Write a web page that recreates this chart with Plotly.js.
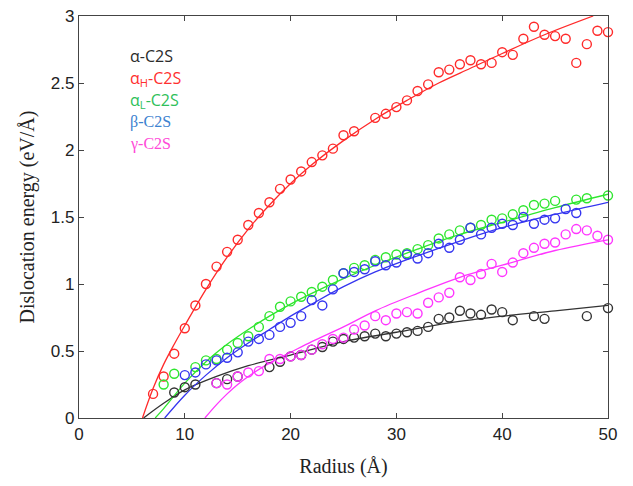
<!DOCTYPE html>
<html>
<head>
<meta charset="utf-8">
<script src="https://cdn.plot.ly/plotly-3.0.1.min.js"></script>
<style>html,body{margin:0;padding:0;background:#fff;}#chart{width:633px;height:486px;}</style>
</head>
<body>
<div id="chart"></div>
<script>
// ---- data points (circles) ----
const alphaX = [9,10,11,13,14,15,18,19,20,21,22,23,24,25,26,27,28,29,30,31,32,33,34,35,36,37,38,39,40,41,43,44,48,50];
const alphaY = [0.19,0.23,0.25,0.26,0.29,0.31,0.38,0.42,0.46,0.47,0.51,0.53,0.57,0.59,0.60,0.61,0.63,0.61,0.63,0.64,0.65,0.68,0.74,0.75,0.80,0.78,0.77,0.81,0.79,0.73,0.76,0.74,0.76,0.82];

const alphaHX = [7,8,9,10,11,12,13,14,15,16,17,18,19,20,21,22,23,24,25,26,28,29,30,31,32,33,34,35,36,37,38,39,40,41,42,43,44,45,46,47,48,49,50];
const alphaHY = [0.18,0.31,0.48,0.67,0.84,1.00,1.13,1.24,1.33,1.44,1.53,1.61,1.71,1.78,1.84,1.91,1.96,2.01,2.11,2.14,2.24,2.27,2.32,2.37,2.44,2.49,2.58,2.60,2.64,2.67,2.64,2.65,2.73,2.71,2.83,2.92,2.86,2.85,2.83,2.65,2.79,2.89,2.88];

const alphaLX = [8,9,11,12,13,14,15,16,17,18,19,20,21,22,23,24,25,26,27,28,29,30,31,32,33,34,35,36,37,38,39,40,41,42,43,44,45,47,48,50];
const alphaLY = [0.25,0.33,0.38,0.43,0.44,0.51,0.56,0.61,0.68,0.76,0.83,0.87,0.905,0.94,0.98,1.03,1.08,1.12,1.14,1.18,1.20,1.22,1.23,1.26,1.29,1.34,1.37,1.40,1.42,1.44,1.48,1.49,1.52,1.55,1.59,1.60,1.62,1.63,1.64,1.66];

const betaX = [10,11,12,13,14,15,16,17,18,19,20,21,22,23,24,25,26,27,28,29,30,31,32,33,34,35,36,37,38,39,40,41,42,43,44,45,46,47];
const betaY = [0.32,0.34,0.40,0.43,0.45,0.49,0.57,0.59,0.62,0.68,0.71,0.76,0.88,0.84,0.96,1.08,1.09,1.11,1.17,1.14,1.16,1.22,1.19,1.23,1.30,1.27,1.33,1.42,1.37,1.42,1.45,1.44,1.50,1.45,1.48,1.49,1.56,1.53];

const gammaX = [13,14,15,16,17,18,19,20,21,22,23,24,25,26,27,28,29,30,31,32,33,34,35,36,37,38,39,40,41,42,43,44,45,46,47,48,49,50];
const gammaY = [0.26,0.25,0.31,0.34,0.35,0.44,0.44,0.46,0.47,0.51,0.55,0.59,0.60,0.66,0.69,0.76,0.73,0.78,0.79,0.78,0.86,0.90,0.935,1.05,1.03,1.075,1.15,1.09,1.16,1.23,1.27,1.30,1.31,1.37,1.41,1.40,1.36,1.33];

// ---- fitted curves ----
const alphaFitX = [6.1,8,10,13,16,20,25,30,35,40,45,50];
const alphaFitY = [0,0.11,0.21,0.31,0.39,0.47,0.57,0.64,0.71,0.76,0.80,0.84];

const alphaHFitX = [6,7,8,9,10,12,14,16,18,20,22,25,28,31,34,37,40,44,48.6];
const alphaHFitY = [0,0.22,0.40,0.55,0.69,0.96,1.20,1.41,1.59,1.75,1.89,2.07,2.23,2.37,2.50,2.61,2.72,2.86,3.0];

const alphaLFitX = [7.2,8,10,12,14,16,18,20,22,25,28,32,36,40,45,50];
const alphaLFitY = [0,0.07,0.26,0.42,0.55,0.66,0.76,0.85,0.93,1.04,1.14,1.26,1.37,1.46,1.57,1.67];

const betaFitX = [8.1,10,12,14,16,18,20,22,25,28,32,36,40,45,50];
const betaFitY = [0,0.17,0.32,0.45,0.56,0.66,0.76,0.85,0.98,1.09,1.21,1.32,1.42,1.52,1.61];

const gammaFitX = [11.9,13,14,15,16,18,20,22,25,28,32,36,40,45,50];
const gammaFitY = [0,0.10,0.18,0.25,0.31,0.41,0.49,0.57,0.68,0.80,0.93,1.05,1.14,1.25,1.33];

const xTicks = [0,10,20,30,40,50];
const yTicks = [0,0.5,1,1.5,2,2.5,3];
const yTickText = ['0','0.5','1','1.5','2','2.5','3'];

const legendLabels = ['α-C2S','α<sub>H</sub>-C2S','α<sub>L</sub>-C2S','β-C2S','γ-C2S'];

// ---- styles ----
const lineColors = ['#333333','#ff2a2a','#2ee62e','#3535f0','#ff35ff'];
const legendColors = ['#2b2b2b','#ff2f2f','#2fbf5a','#3c82d0','#ff4ad8'];
const legendFonts = ['Open Sans','Open Sans','Open Sans','Liberation Serif','Liberation Serif'];

const series = [
  [alphaX, alphaY, alphaFitX, alphaFitY],
  [alphaHX, alphaHY, alphaHFitX, alphaHFitY],
  [alphaLX, alphaLY, alphaLFitX, alphaLFitY],
  [betaX, betaY, betaFitX, betaFitY],
  [gammaX, gammaY, gammaFitX, gammaFitY]
];

const traces = [];
series.forEach((s, i) => {
  traces.push({
    x: s[2], y: s[3], mode: 'lines', type: 'scatter',
    line: {color: lineColors[i], width: 1.3, shape: 'spline', smoothing: 1},
    showlegend: false, hoverinfo: 'skip'
  });
});
series.forEach((s, i) => {
  traces.push({
    x: s[0], y: s[1], mode: 'markers', type: 'scatter',
    marker: {symbol: 'circle-open', size: 9, color: lineColors[i], line: {width: 1.4, color: lineColors[i]}},
    cliponaxis: false, showlegend: false
  });
});

const annotations = legendLabels.map((t, i) => ({
  text: t, xref: 'paper', yref: 'paper',
  x: 0.093, y: 0.9 - i * 0.0545, xanchor: 'left', yanchor: 'middle',
  showarrow: false,
  font: {family: legendFonts[i], size: 16, color: legendColors[i]}
}));

const layout = {
  width: 633, height: 486,
  margin: {l: 79, r: 25, t: 16, b: 68},
  paper_bgcolor: '#ffffff', plot_bgcolor: '#ffffff',
  showlegend: false,
  xaxis: {
    range: [0, 50], tickvals: xTicks, ticks: 'inside', ticklen: 5, tickcolor: '#444',
    showline: true, linecolor: '#444', linewidth: 1.2, mirror: 'ticks',
    showgrid: false, zeroline: false,
    tickfont: {family: 'Liberation Sans', size: 17, color: '#222'},
    title: {text: 'Radius (Å)', font: {family: 'Liberation Serif', size: 20, color: '#222'}, standoff: 16}
  },
  yaxis: {
    range: [0, 3], tickvals: yTicks, ticktext: yTickText, ticks: 'inside', ticklen: 5, tickcolor: '#444',
    showline: true, linecolor: '#444', linewidth: 1.2, mirror: 'ticks',
    showgrid: false, zeroline: false,
    tickfont: {family: 'Liberation Sans', size: 17, color: '#222'},
    title: {text: 'Dislocation energy (eV/Å)', font: {family: 'Liberation Serif', size: 20, color: '#222'}, standoff: 10}
  },
  annotations: annotations
};

Plotly.newPlot('chart', traces, layout, {displayModeBar: false, staticPlot: true});
</script>
</body>
</html>
